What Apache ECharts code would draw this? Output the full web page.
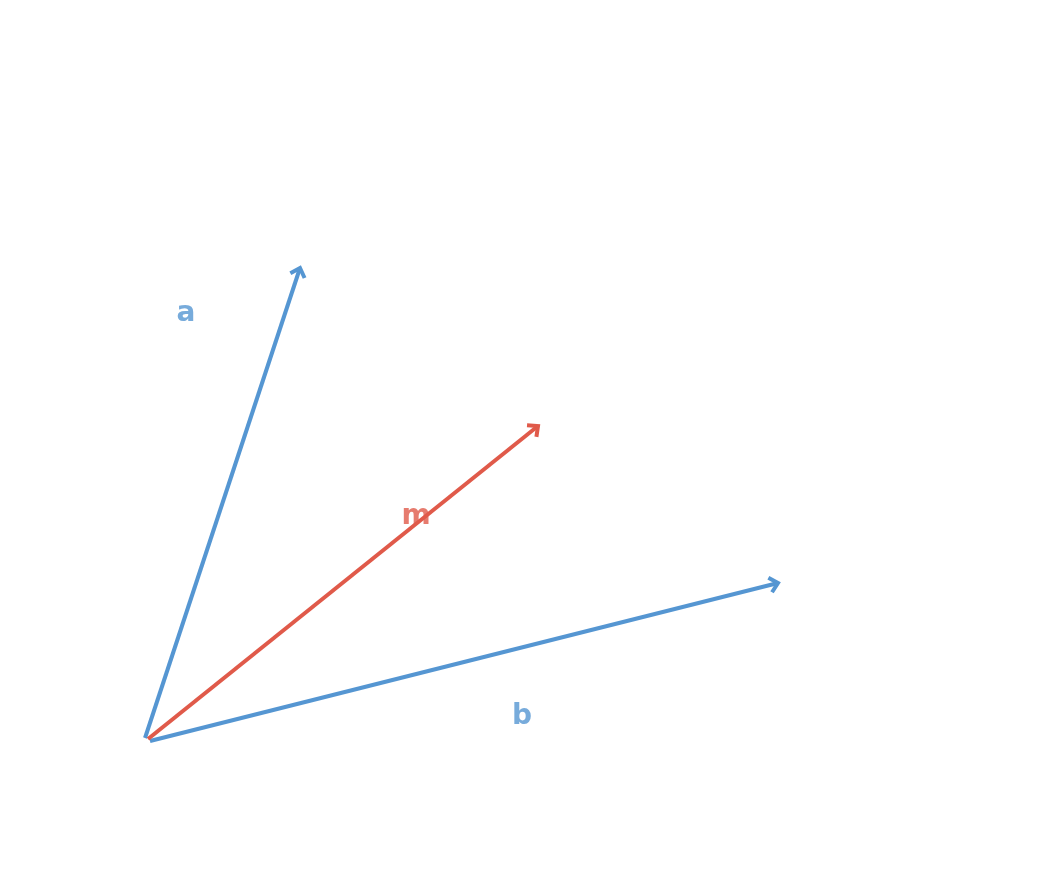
<!DOCTYPE html>
<html>
<head>
<meta charset="utf-8">
<script src="https://cdn.jsdelivr.net/npm/echarts@6/dist/echarts.min.js"></script>
<style>html,body{margin:0;padding:0;background:#fff}#main{width:1045px;height:885px}</style>
</head>
<body>
<div id="main"></div>
<script>
// vectors from a common origin, [dx, dy]
var names = ['a', 'b', 'm'];
var starts = [[-2, 0], [3, -3], [1, -1]];
var ends = [[153, 470], [631, 155], [391, 312]];
var colors = ['#5596d2', '#5596d2', '#e05a4a'];
var labelPos = [[39, 424], [375, 21], [269, 221]];

var myChart = echarts.init(document.getElementById('main'));

var vecData = names.map(function(n, i) {
  return [starts[i][0], starts[i][1], ends[i][0], ends[i][1], i];
});
var labelData = names.map(function(n, i) {
  return { value: labelPos[i], name: n, itemStyle: { color: colors[i] },
           label: { color: colors[i] } };
});

var option = {
  animation: false,
  grid: { left: 0, right: 0, top: 0, bottom: 0 },
  xAxis: { type: 'value', min: -147, max: 898, show: false },
  yAxis: { type: 'value', min: -147, max: 738, show: false },
  series: [{
    type: 'custom',
    data: vecData,
    renderItem: function(params, api) {
      var p0 = api.coord([api.value(0), api.value(1)]);
      var p1 = api.coord([api.value(2), api.value(3)]);
      var c = colors[api.value(4)];
      var ang = Math.atan2(p1[1] - p0[1], p1[0] - p0[0]);
      var h = 11, w = 0.75;
      var l = [p1[0] - h * Math.cos(ang - w), p1[1] - h * Math.sin(ang - w)];
      var r = [p1[0] - h * Math.cos(ang + w), p1[1] - h * Math.sin(ang + w)];
      var st = { stroke: c, lineWidth: 4, fill: null, lineCap: 'butt', lineJoin: 'miter' };
      return { type: 'group', children: [
        { type: 'line', shape: { x1: p0[0], y1: p0[1], x2: p1[0], y2: p1[1] }, style: st },
        { type: 'polyline', shape: { points: [l, p1, r] }, style: st }
      ]};
    }
  }, {
    type: 'scatter',
    symbolSize: 0,
    data: labelData,
    label: { show: true, position: 'inside', formatter: '{b}',
             fontSize: 28, fontWeight: 'bold', fontFamily: 'DejaVu Sans' }
  }]
};
myChart.setOption(option);
</script>
</body>
</html>
